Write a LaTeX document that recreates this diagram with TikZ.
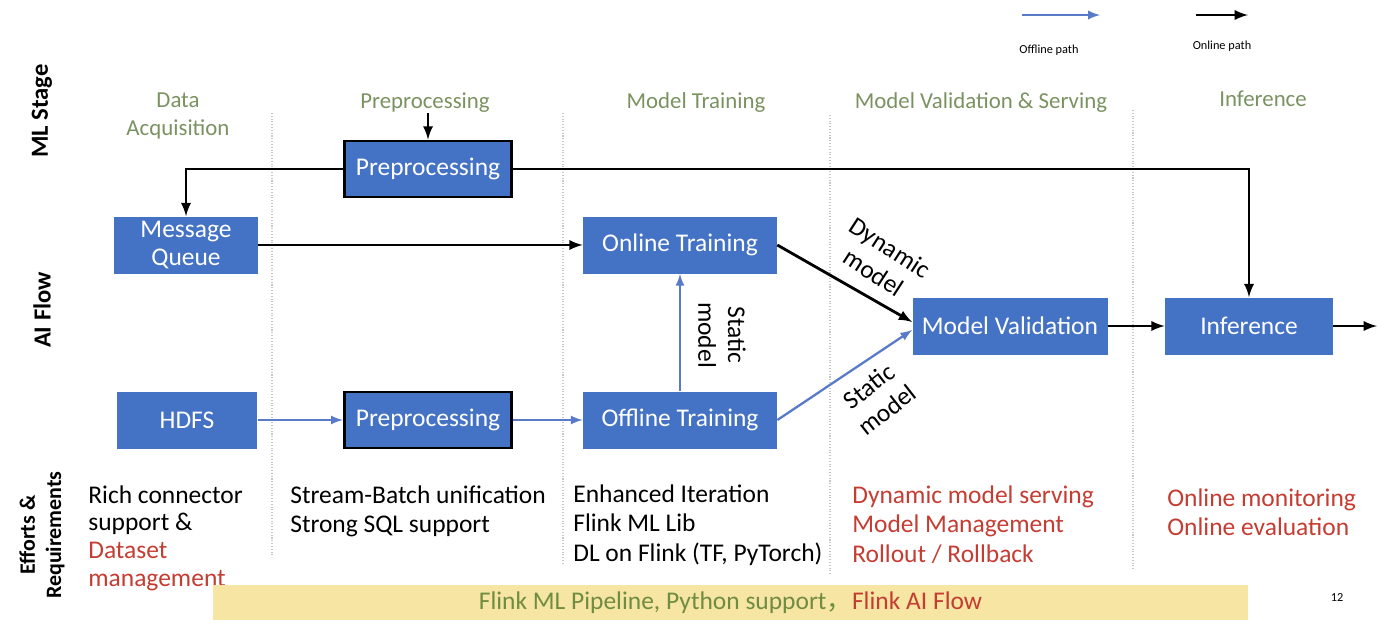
\documentclass[tikz,border=0pt]{standalone}
\usepackage{fontspec}
\setmainfont{Carlito}
\newfontfamily\cjk{Noto Sans CJK SC}
\usetikzlibrary{positioning}

\definecolor{boxblue}{RGB}{68,114,196}
\definecolor{pathblue}{RGB}{88,122,200}
\definecolor{stagegreen}{RGB}{122,146,96}
\definecolor{bandgreen}{RGB}{112,140,64}
\definecolor{notered}{RGB}{196,60,50}
\definecolor{bandyellow}{RGB}{246,229,163}

\begin{document}
\begin{tikzpicture}[x=0.02cm, y=-0.02cm, >=latex,
    flownode/.style={rectangle, fill=boxblue, text=white, font=\fontsize{14.5}{16}\selectfont, minimum height=1.14cm, inner sep=2pt, align=center},
    prepnode/.style={flownode, draw=black, line width=1.6pt, minimum width=3.35cm, minimum height=1.12cm},
    stagelabel/.style={text=stagegreen, font=\fontsize{13}{16}\selectfont, align=center},
    rowlabel/.style={rotate=90, font=\bfseries\fontsize{14}{15}\selectfont, align=center},
    notes/.style={anchor=north west, align=left, inner sep=0pt, font=\fontsize{14.5}{17}\selectfont},
    edgelabel/.style={font=\fontsize{14.5}{17}\selectfont, align=center},
    online/.style={->, line width=1.6pt},
    offline/.style={->, line width=1.3pt, draw=pathblue},
    sep/.style={gray!45, densely dotted, line width=0.6pt},
    ]
    \useasboundingbox (0,0) rectangle (1388,630);

    %Separators
    \draw[sep] (272,113) -- (272,555);
    \draw[sep] (563,113) -- (563,565);
    \draw[sep] (830,115) -- (830,575);
    \draw[sep] (1133,110) -- (1133,570);

    %Row and stage labels
    \node[rowlabel] (mlstage)  at (42,111) {ML Stage};
    \node[rowlabel] (aiflow)   at (42,310) {AI Flow};
    \node[rowlabel, font=\bfseries\fontsize{12.5}{15}\selectfont] (efforts) at (42,535) {Efforts \&\\Requirements};

    \node[stagelabel] (stdata)  at (178,116) {Data\\Acquisition};
    \node[stagelabel] (stprep)  at (425,103) {Preprocessing};
    \node[stagelabel] (sttrain) at (696,103) {Model Training};
    \node[stagelabel] (stserve) at (981,103) {Model Validation \& Serving};
    \node[stagelabel] (stinfer) at (1263,99) {Inference};

    %Nodes
    \node[prepnode]                         (preptop)  at (428,169) {Preprocessing};
    \node[flownode, minimum width=2.88cm]   (mq)       at (186,245) {Message\\Queue};
    \node[flownode, minimum width=3.88cm]   (ontrain)  at (680,245) {Online Training};
    \node[flownode, minimum width=2.82cm]   (hdfs)     at (187,420) {HDFS};
    \node[prepnode]                         (prepbot)  at (428,420) {Preprocessing};
    \node[flownode, minimum width=3.88cm]   (offtrain) at (680,420) {Offline Training};
    \node[flownode, minimum width=3.9cm]    (valid)    at (1010,326) {Model Validation};
    \node[flownode, minimum width=3.36cm]   (infer)    at (1249,326) {Inference};

    \coordinate (prepin)   at (428,113);
    \coordinate (inferout) at (1377,326);

    %Lines
    \draw[online] (prepin) -- (preptop.north);
    \draw[online] (preptop.west) -| (mq.north);
    \draw[online] (preptop.east) -| (infer.north);
    \draw[online] (mq.east) -- (ontrain.west);
    \draw[online] (ontrain.east) -- ([yshift=0.08cm]valid.west);
    \draw[offline] (offtrain.east) -- ([yshift=-0.08cm]valid.west);
    \draw[offline] (offtrain.north) -- (ontrain.south);
    \draw[offline] (hdfs.east) -- (prepbot.west);
    \draw[offline] (prepbot.east) -- (offtrain.west);
    \draw[online] (valid.east) -- (infer.west);
    \draw[online] (infer.east) -- (inferout);

    \node[edgelabel, rotate=-33] (dynlbl)  at (882,260) {Dynamic\\model};
    \node[edgelabel, rotate=38]  (statlbl) at (878,398) {Static\\model};
    \node[edgelabel, rotate=-90] (uplbl)   at (722,335) {Static\\model};

    %Legend
    \coordinate (offa) at (1022,15);
    \coordinate (offb) at (1100,15);
    \coordinate (ona)  at (1196,15);
    \coordinate (onb)  at (1248,15);
    \draw[offline] (offa) -- (offb);
    \draw[online]  (ona) -- (onb);
    \node[font=\fontsize{7}{8}\selectfont] (offtxt) at (1049,50) {Offline path};
    \node[font=\fontsize{7}{8}\selectfont] (ontxt)  at (1222,46) {Online path};

    %Efforts and requirements
    \node[notes, font=\fontsize{14.5}{15.8}\selectfont] (reqdata) at (88,485) {Rich connector\\support \&\\\textcolor{notered}{Dataset}\\\textcolor{notered}{management}};
    \node[notes] (reqprep)  at (290,485)  {Stream-Batch unification\\Strong SQL support};
    \node[notes] (reqtrain) at (573,484)  {Enhanced Iteration\\Flink ML Lib\\DL on Flink (TF, PyTorch)};
    \node[notes, text=notered] (reqserve) at (852,485) {Dynamic model serving\\Model Management\\Rollout / Rollback};
    \node[notes, text=notered] (reqinfer) at (1167,488) {Online monitoring\\Online evaluation};

    %Band
    \node[fill=bandyellow, minimum width=20.7cm, minimum height=0.7cm, inner sep=0pt,
          font=\fontsize{14.5}{16}\selectfont] (band) at (730.5,602.5)
          {\textcolor{bandgreen}{Flink ML Pipeline, Python support{\cjk ，}}\textcolor{notered}{Flink AI Flow}};
    \node[font=\fontsize{7}{8}\selectfont] (pagenum) at (1337,597) {12};
\end{tikzpicture}
\end{document}
